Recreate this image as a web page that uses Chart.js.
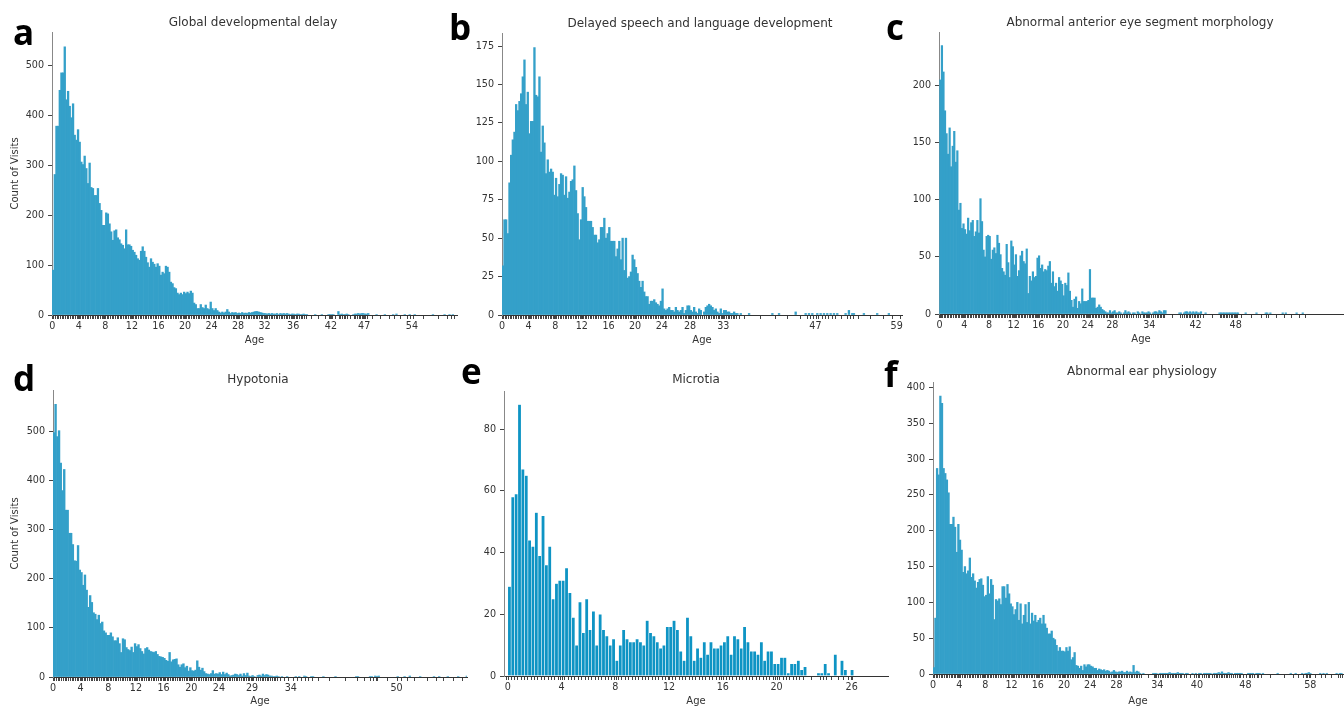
<!DOCTYPE html>
<html>
<head>
<meta charset="utf-8">
<script src="https://cdn.jsdelivr.net/npm/chart.js@4.4.1/dist/chart.umd.min.js"></script>
<style>
  html, body { margin: 0; padding: 0; background: #fff; }
  body { width: 1344px; height: 707px; position: relative; overflow: hidden; }
  canvas { position: absolute; }
  .title { position: absolute; font: 12px "DejaVu Sans", sans-serif; color: #333; white-space: nowrap; transform: translate(-50%, -50%); }
  .letter { position: absolute; font: 700 35px "Open Sans", sans-serif; line-height: 1; color: #000; }
</style>
</head>
<body>
<script>
const binWidth = 0.25;

const countsA = [
  90,282,379,379,451,486,486,538,432,449,419,396,424,361,351,372,
  347,307,302,319,294,264,305,256,254,240,240,254,224,210,180,180,
  205,203,183,167,150,169,171,155,151,143,140,133,171,141,141,138,
  130,126,120,113,110,128,137,128,116,105,96,113,106,102,96,103,
  98,80,86,83,98,96,86,66,63,55,53,44,41,44,41,46,
  43,46,43,48,44,24,21,13,13,21,15,13,20,13,11,26,
  13,9,13,9,6,4,6,4,6,11,6,3,5,4,5,3,
  4,3,5,3,4,3,5,4,5,6,7,7,6,5,4,3,
  3,2,3,2,3,2,2,3,1,3,2,3,2,3,2,1,
  2,2,1,2,2,1,1,2,1,1,0,0,0,0,1,0,
  0,0,1,0,0,0,1,1,1,1,0,0,7,1,2,1,
  1,2,1,0,0,1,2,2,3,2,3,3,2,2,3,0,
  0,0,0,1,0,0,0,0,1,0,0,0,0,1,0,2,
  0,0,0,0,1,0,0,1,0,0,1,0,0,0,0,0,
  0,0,0,0,0,1,0,0,0,0,0,0,1,0,0,1,
  0,1
];
const countsB = [
  32,62,62,53,86,104,114,119,137,133,139,144,155,166,137,145,
  118,126,126,174,143,142,155,106,123,112,92,101,93,95,93,78,
  89,77,85,92,91,78,90,76,80,87,88,97,81,66,49,62,
  83,77,70,61,61,61,57,52,52,47,49,57,57,63,50,53,
  57,48,48,48,38,43,48,36,50,29,50,24,25,28,39,36,
  31,27,22,18,22,15,12,12,7,9,9,10,8,7,6,9,
  17,4,3,4,5,3,3,2,5,3,2,3,5,1,3,6,
  6,3,2,5,2,1,4,3,0,2,5,6,7,6,5,3,
  4,2,1,4,1,3,3,2,2,1,1,2,1,1,0,1,
  0,0,0,0,1,0,0,0,0,0,0,0,0,0,0,0,
  0,0,1,0,0,0,1,0,0,0,0,0,0,0,0,0,
  2,0,0,0,0,0,1,0,1,0,1,0,0,1,0,1,
  0,1,0,1,0,1,0,1,0,1,0,0,0,0,1,0,
  3,0,1,1,0,0,0,0,0,1,0,0,0,0,0,0,
  0,1,0,0,0,0,0,0,1,0,0,0,0,0,0,0
];
const countsC = [
  205,235,212,178,158,140,163,129,147,160,133,143,91,97,75,79,
  74,70,84,73,80,82,68,72,82,71,101,81,56,50,68,69,
  68,48,56,58,53,69,62,52,40,37,34,61,45,32,64,59,
  43,52,33,38,51,55,46,44,57,18,33,29,37,32,33,49,
  51,40,43,37,39,38,42,46,27,37,24,27,20,32,29,26,
  16,27,25,36,20,12,6,13,15,5,11,9,22,11,11,11,
  12,39,14,14,14,5,6,8,6,4,3,2,1,1,3,1,
  2,3,1,1,2,1,0,1,3,1,2,1,0,1,1,0,
  2,1,0,2,1,1,1,2,1,0,1,2,2,1,3,2,
  1,3,3,0,0,0,0,0,0,0,0,1,1,0,1,2,
  2,1,2,1,2,1,2,1,1,2,0,0,1,0,0,0,
  0,0,0,0,0,1,1,1,1,1,1,1,1,1,1,1,
  1,1,0,0,0,0,1,0,0,0,0,0,0,1,0,0,
  0,0,0,1,1,0,1,0,0,0,0,0,0,0,1,0,
  1,0,0,0,0,0,0,1,0,0,0,1,0,0,0,0
];
const countsD = [
  498,556,490,502,436,380,423,340,340,293,293,270,237,236,268,218,
  213,187,208,177,142,166,152,131,128,117,126,109,112,94,90,85,
  85,90,82,74,74,80,68,50,78,76,60,56,54,61,50,68,
  62,66,58,52,47,58,60,55,52,51,50,52,46,42,41,40,
  38,34,32,50,31,35,36,37,25,20,25,27,19,22,12,19,
  13,12,14,33,20,14,18,11,7,6,5,7,13,6,7,6,
  9,5,10,5,8,5,2,3,4,6,5,3,6,2,7,3,
  8,2,1,3,1,0,3,4,2,6,3,5,4,2,2,1,
  1,2,1,0,1,0,0,1,0,0,0,0,1,0,1,0,
  0,2,1,0,0,1,1,0,0,0,0,0,1,0,0,0,
  0,0,0,1,0,0,0,0,0,0,0,0,0,0,0,1,
  1,0,0,0,0,0,0,1,1,0,2,1,2,0,0,0,
  0,0,0,0,0,0,0,1,0,0,0,1,0,0,2,0,
  0,0,0,0,1,0,0,0,0,0,0,0,1,0,0,1,
  0,0,0,0,1,0,0,0,0,0,1,0,0,0,0,2
];
const countsE = [
  29,58,59,88,67,65,44,42,53,39,52,36,42,25,30,31,
  31,35,27,19,10,24,14,25,15,21,10,20,15,13,10,12,
  5,10,15,12,11,11,12,11,10,18,14,13,11,9,10,16,
  16,18,15,8,5,19,13,5,9,6,11,7,11,9,9,10,
  11,13,7,13,12,9,16,11,8,8,7,11,5,8,8,4,
  4,6,6,1,4,4,5,2,3,0,0,0,1,1,4,1,
  0,7,0,5,2,0,2
];
const countsF = [
  9,78,287,278,388,378,287,280,271,253,209,209,219,205,170,209,
  187,173,142,150,140,144,162,135,140,130,120,128,132,133,124,108,
  110,136,112,132,124,76,104,102,105,97,122,122,106,125,112,98,
  94,83,90,100,75,98,70,82,97,72,100,70,85,74,82,72,
  75,78,70,82,70,64,56,56,60,50,48,40,32,37,32,32,
  31,37,32,38,20,23,30,12,11,8,11,5,13,10,13,13,
  11,10,8,8,5,7,6,5,6,4,5,4,2,3,5,3,
  2,3,3,4,2,2,4,2,3,2,12,2,4,3,1,0,
  1,0,0,0,0,0,1,1,1,0,1,1,1,1,1,1,
  2,1,1,1,1,2,1,1,1,0,1,1,0,0,1,0,
  1,0,1,1,0,1,1,1,1,1,0,1,1,1,2,1,
  3,1,1,1,2,1,1,0,1,1,1,1,1,0,0,0,
  1,1,1,1,0,1,1,1,0,1,0,0,0,0,0,0,
  0,0,1,0,0,0,0,0,0,0,1,0,0,1,0,0,
  0,1,0,1,1,2,1,0,0,0,0,0,1,0,1,0,
  1,0,0,0,0,0,1,0,1,1
];

// labelled age ticks (where they sit on the axis, and what they read)
const tickPosA = [0, 4, 8, 12, 16, 20, 24, 28, 32, 36.3, 42, 47, 54.2];
const tickLabelsA = ['0','4','8','12','16','20','24','28','32','36','42','47','54'];
const tickPosB = [0, 4, 8, 12, 16, 20, 24, 28.25, 33.25, 47.1, 59.3];
const tickLabelsB = ['0','4','8','12','16','20','24','28','33','47','59'];
const tickPosC = [0, 4, 8, 12, 16, 20, 24, 28, 34, 41.5, 48];
const tickLabelsC = ['0','4','8','12','16','20','24','28','34','42','48'];
const tickPosD = [0, 4, 8, 12, 16, 20, 24, 28.8, 34.4, 49.7];
const tickLabelsD = ['0','4','8','12','16','20','24','29','34','50'];
const tickPosE = [0, 4, 8, 12, 16, 20, 25.6];
const tickLabelsE = ['0','4','8','12','16','20','26'];
const tickPosF = [0, 4, 8, 12, 16, 20, 24, 28, 34.25, 40.3, 47.7, 57.6];
const tickLabelsF = ['0','4','8','12','16','20','24','28','34','40','48','58'];

const panels = [
  { letter: 'a', title: 'Global developmental delay', counts: countsA, tickPos: tickPosA, tickLabels: tickLabelsA,
    box: { left: 0, top: 0, w: 470, h: 350 }, area: { l: 52, t: 32, r: 457, b: 315 },
    xMin: -0.05, xMax: 61, yMax: 568, yStep: 100, yTitle: true,
    titleAt: [253, 22], letterAt: [13, 14], agePad: 4, color: '#34a0c9' },
  { letter: 'b', title: 'Delayed speech and language development', counts: countsB, tickPos: tickPosB, tickLabels: tickLabelsB,
    box: { left: 440, top: 0, w: 475, h: 350 }, area: { l: 502, t: 33, r: 902, b: 315 },
    xMin: 0, xMax: 60.1, yMax: 183.5, yStep: 25, yTitle: false,
    titleAt: [700, 23], letterAt: [449, 9], agePad: 3.3, color: '#34a0c9' },
  { letter: 'c', title: 'Abnormal anterior eye segment morphology', counts: countsC, tickPos: tickPosC, tickLabels: tickLabelsC,
    box: { left: 890, top: 0, w: 454, h: 350 }, area: { l: 939, t: 32, r: 1343, b: 314 },
    xMin: -0.1, xMax: 65.4, yMax: 247, yStep: 50, yTitle: false,
    titleAt: [1140, 22], letterAt: [886, 9], agePad: 4.7, color: '#34a0c9' },
  { letter: 'd', title: 'Hypotonia', counts: countsD, tickPos: tickPosD, tickLabels: tickLabelsD,
    box: { left: 0, top: 355, w: 475, h: 360 }, area: { l: 53, t: 390, r: 467, b: 677 },
    xMin: 0, xMax: 59.9, yMax: 585, yStep: 100, yTitle: true,
    titleAt: [258, 379], letterAt: [13, 360], agePad: 7.3, color: '#34a0c9' },
  { letter: 'e', title: 'Microtia', counts: countsE, tickPos: tickPosE, tickLabels: tickLabelsE,
    box: { left: 460, top: 355, w: 440, h: 360 }, area: { l: 504, t: 391, r: 888, b: 676 },
    xMin: -0.28, xMax: 28.3, yMax: 92.4, yStep: 20, yTitle: false,
    titleAt: [696, 379], letterAt: [461, 353], agePad: 7.3, color: '#0e94c4', edge: true },
  { letter: 'f', title: 'Abnormal ear physiology', counts: countsF, tickPos: tickPosF, tickLabels: tickLabelsF,
    box: { left: 880, top: 355, w: 464, h: 360 }, area: { l: 933, t: 382, r: 1343, b: 674 },
    xMin: 0, xMax: 62.6, yMax: 407.7, yStep: 50, yTitle: false,
    titleAt: [1142, 371], letterAt: [884, 356], agePad: 8, color: '#34a0c9' }
];

const tickFont = { family: 'DejaVu Sans', size: 9.6 };
const labelFont = { family: 'DejaVu Sans', size: 10 };

function binPoints(counts) {
  const pts = [];
  counts.forEach((c, i) => {
    if (c > 0) pts.push({ x: i * binWidth + binWidth / 2, y: c });
  });
  return pts;
}

function addText(cls, text, x, y) {
  const div = document.createElement('div');
  div.className = cls;
  div.textContent = text;
  div.style.left = x + 'px';
  div.style.top = y + 'px';
  document.body.appendChild(div);
}

function makePanel(p) {
  const canvas = document.createElement('canvas');
  canvas.width = p.box.w;
  canvas.height = p.box.h;
  canvas.style.left = p.box.left + 'px';
  canvas.style.top = p.box.top + 'px';
  document.body.appendChild(canvas);

  const points = binPoints(p.counts);
  const rug = points.map(pt => pt.x);
  // one bin wide in pixels; the rug ticks would otherwise shrink the bars
  const barPx = (p.area.r - p.area.l) / (p.xMax - p.xMin) * binWidth;

  new Chart(canvas.getContext('2d'), {
    type: 'bar',
    data: {
      datasets: [{
        data: points,
        backgroundColor: p.color,
        borderColor: 'rgba(255,255,255,0.55)',
        borderWidth: p.edge ? 0.6 : 0,
        barThickness: barPx
      }]
    },
    options: {
      responsive: false,
      animation: false,
      devicePixelRatio: 1,
      layout: { padding: { top: p.area.t - p.box.top, right: p.box.left + p.box.w - p.area.r, left: 0, bottom: 0 } },
      plugins: { legend: { display: false }, tooltip: { enabled: false } },
      scales: {
        x: {
          type: 'linear',
          min: p.xMin,
          max: p.xMax,
          offset: false,
          afterBuildTicks: s => {
            s.ticks = p.tickPos.concat(rug).sort((a, b) => a - b).map(v => ({ value: v }));
          },
          afterFit: s => { s.height = p.box.top + p.box.h - p.area.b; },
          ticks: {
            autoSkip: false, maxRotation: 0, minRotation: 0, padding: 1.5,
            color: '#333', font: tickFont,
            callback: v => {
              const k = p.tickPos.indexOf(v);
              return k >= 0 ? p.tickLabels[k] : '';
            }
          },
          grid: { display: true, drawOnChartArea: false, drawTicks: true, tickLength: 4, tickColor: '#444', tickWidth: 1 },
          border: { display: true, color: '#333', width: 1 },
          title: { display: true, text: 'Age', color: '#333', font: labelFont, padding: { top: 0, bottom: p.agePad } }
        },
        y: {
          min: 0,
          max: p.yMax,
          afterFit: s => { s.width = p.area.l - p.box.left; },
          ticks: { stepSize: p.yStep, includeBounds: false, padding: 4, color: '#333', font: tickFont },
          grid: { display: true, drawOnChartArea: false, drawTicks: true, tickLength: 4, tickColor: '#444', tickWidth: 1 },
          border: { display: true, color: '#888', width: 1 },
          title: { display: p.yTitle, text: 'Count of Visits', color: '#333', font: labelFont, padding: { top: 9, bottom: 0 } }
        }
      }
    }
  });

  addText('title', p.title, p.titleAt[0], p.titleAt[1]);
  addText('letter', p.letter, p.letterAt[0], p.letterAt[1]);
}

panels.forEach(makePanel);
</script>
</body>
</html>
